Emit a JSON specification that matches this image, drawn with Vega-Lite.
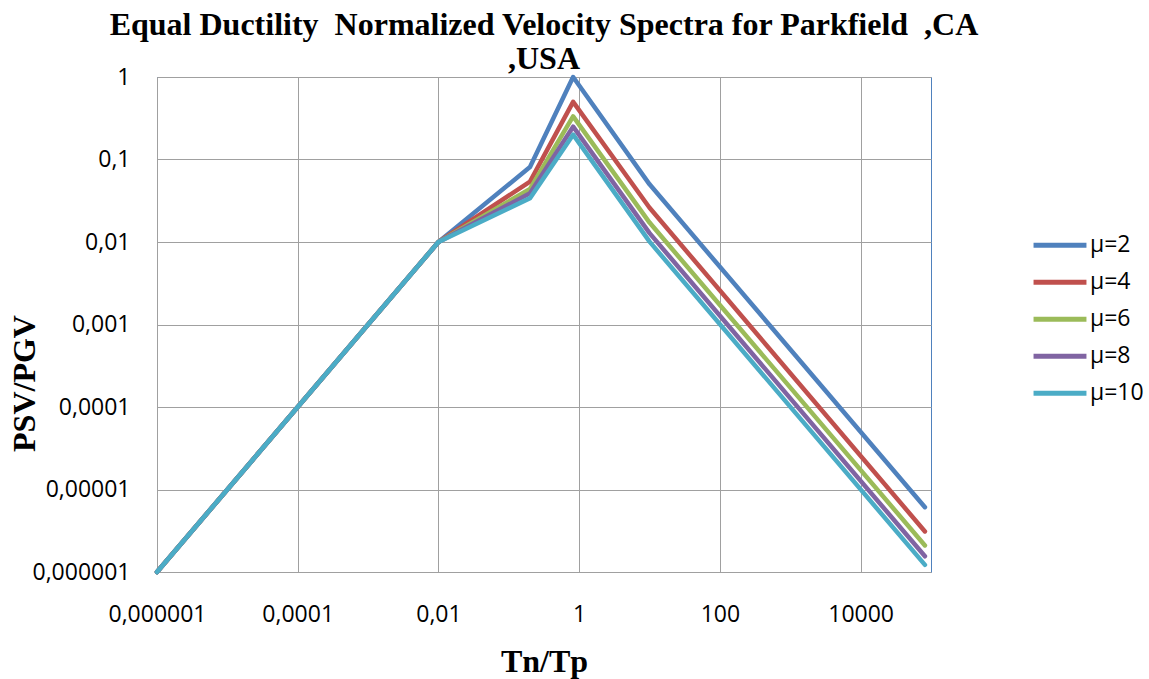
{
  "$schema": "https://vega.github.io/schema/vega-lite/v6.json",
  "autosize": "none",
  "width": 774,
  "height": 495,
  "padding": {"left": 157, "top": 77, "right": 218, "bottom": 107},
  "background": "white",
  "config": {
    "view": {"stroke": "#4F81BD", "strokeWidth": 1},
    "axis": {"domain": false, "ticks": false, "tickSize": 0, "gridColor": "#A0A0A0", "gridWidth": 1, "gridOpacity": 1, "labelFont": "Open Sans", "labelFontSize": 23, "labelColor": "#000000", "titleFont": "Liberation Serif", "titleFontWeight": "bold", "titleFontSize": 32, "titleColor": "#000000"}
  },
  "title": {
    "text": ["Equal Ductility \u00a0Normalized Velocity Spectra for Parkfield \u00a0,CA", ",USA"],
    "font": "Liberation Serif",
    "fontWeight": "bold",
    "fontSize": 32,
    "lineHeight": 34,
    "color": "#000000",
    "anchor": "middle",
    "offset": -10
  },
  "data": {
    "values": [
      {"T": 0.000001, "V": 0.000001, "mu": "μ=2"},
      {"T": 0.01, "V": 0.01, "mu": "μ=2"},
      {"T": 0.2, "V": 0.081, "mu": "μ=2"},
      {"T": 0.82, "V": 1.0, "mu": "μ=2"},
      {"T": 10, "V": 0.05, "mu": "μ=2"},
      {"T": 82000, "V": 0.0000061, "mu": "μ=2"},
      {"T": 0.000001, "V": 0.000001, "mu": "μ=4"},
      {"T": 0.01, "V": 0.01, "mu": "μ=4"},
      {"T": 0.2, "V": 0.054, "mu": "μ=4"},
      {"T": 0.82, "V": 0.5, "mu": "μ=4"},
      {"T": 10, "V": 0.026, "mu": "μ=4"},
      {"T": 82000, "V": 0.0000031, "mu": "μ=4"},
      {"T": 0.000001, "V": 0.000001, "mu": "μ=6"},
      {"T": 0.01, "V": 0.01, "mu": "μ=6"},
      {"T": 0.2, "V": 0.044, "mu": "μ=6"},
      {"T": 0.82, "V": 0.333, "mu": "μ=6"},
      {"T": 10, "V": 0.0172, "mu": "μ=6"},
      {"T": 82000, "V": 0.0000021, "mu": "μ=6"},
      {"T": 0.000001, "V": 0.000001, "mu": "μ=8"},
      {"T": 0.01, "V": 0.01, "mu": "μ=8"},
      {"T": 0.2, "V": 0.039, "mu": "μ=8"},
      {"T": 0.82, "V": 0.25, "mu": "μ=8"},
      {"T": 10, "V": 0.0128, "mu": "μ=8"},
      {"T": 82000, "V": 0.00000155, "mu": "μ=8"},
      {"T": 0.000001, "V": 0.000001, "mu": "μ=10"},
      {"T": 0.01, "V": 0.01, "mu": "μ=10"},
      {"T": 0.2, "V": 0.034, "mu": "μ=10"},
      {"T": 0.82, "V": 0.2, "mu": "μ=10"},
      {"T": 10, "V": 0.0101, "mu": "μ=10"},
      {"T": 82000, "V": 0.00000122, "mu": "μ=10"}
    ]
  },
  "mark": {"type": "line", "strokeWidth": 4.5, "strokeCap": "round", "strokeJoin": "round"},
  "encoding": {
    "x": {
      "field": "T", "type": "quantitative",
      "scale": {"type": "log", "domain": [0.000001, 100000], "nice": false},
      "axis": {"title": "Tn/Tp", "values": [0.000001, 0.0001, 0.01, 1, 100, 10000], "labelExpr": "replace(format(datum.value, '.6~f'), '.', ',')", "labelPadding": 31, "titlePadding": 20, "labelFlush": false}
    },
    "y": {
      "field": "V", "type": "quantitative",
      "scale": {"type": "log", "domain": [0.000001, 1], "nice": false},
      "axis": {"title": "PSV/PGV", "values": [0.000001, 0.00001, 0.0001, 0.001, 0.01, 0.1, 1], "labelExpr": "replace(format(datum.value, '.6~f'), '.', ',')", "labelPadding": 27, "labelFlush": false, "titleX": -123, "titleY": 306, "titleBaseline": "alphabetic", "titleAngle": -90}
    },
    "color": {
      "field": "mu", "type": "nominal",
      "sort": ["μ=2", "μ=4", "μ=6", "μ=8", "μ=10"],
      "scale": {"domain": ["μ=2", "μ=4", "μ=6", "μ=8", "μ=10"], "range": ["#4F81BD", "#C0504D", "#9BBB59", "#8064A2", "#4BACC6"]},
      "legend": {"title": null, "orient": "none", "legendX": 874, "legendY": 150, "symbolType": "stroke", "symbolSize": 2800, "symbolStrokeWidth": 5, "labelFont": "Open Sans", "labelFontSize": 23, "labelColor": "#000000", "labelOffset": 1, "rowPadding": 0, "clipHeight": 36.7, "padding": 0}
    }
  }
}
